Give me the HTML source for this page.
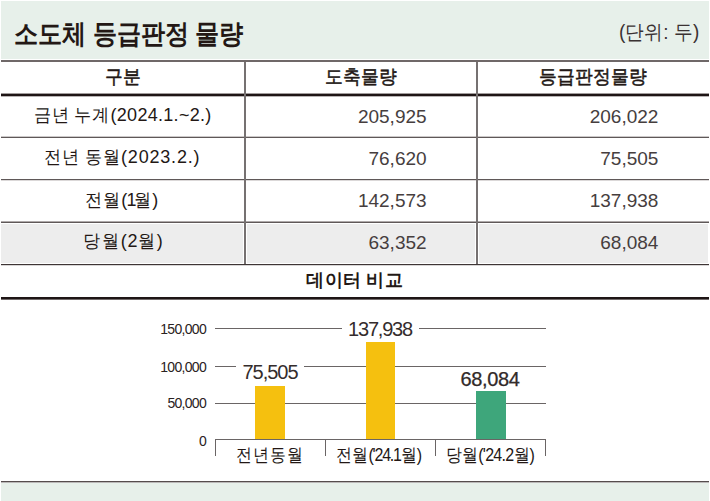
<!DOCTYPE html>
<html>
<head>
<meta charset="utf-8">
<style>
html,body{margin:0;padding:0;}
body{width:710px;height:501px;position:relative;overflow:hidden;background:#fff;
font-family:"Liberation Sans",sans-serif;color:#231815;}
.a{position:absolute;}
.t{position:absolute;white-space:nowrap;line-height:1;}
.hb{background:#e7f0ea;}
.g{background:#6f6868;}
.k{background:#1e1515;}
.rl{background:#5f5858;}
.vl{background:#767171;}
.gr{background:#ededed;}
.hd{font-size:18px;-webkit-text-stroke:0.5px #231815;transform:scaleY(1.07);transform-origin:50% 50%;}
.c{text-align:center;}
.r{text-align:right;}
.lb{font-size:17.5px;transform:scaleY(1.05);transform-origin:50% 50%;}
.dg{font-size:18px;}
.num{font-size:19px;color:#463e3e;}
.ax{font-size:14px;letter-spacing:-0.7px;color:#2a2222;}
.gl{background:#6a6565;height:1px;}
.bl{font-size:20px;color:#342c2c;}
.xl{font-size:16px;transform:scaleY(1.13);transform-origin:50% 50%;}
</style>
</head>
<body>
<!-- header band -->
<div class="a hb" style="left:1px;top:1px;width:708px;height:58px;"></div>
<div class="t" style="left:14px;top:22px;font-size:24px;font-weight:bold;transform:scaleY(1.12);transform-origin:50% 50%;">소도체 등급판정 물량</div>
<div class="t" style="left:619px;top:23px;font-size:19px;color:#3a3232;transform:scaleY(1.07);transform-origin:50% 50%;">(단위: 두)</div>
<div class="a g" style="left:1px;top:60px;width:708px;height:2px;"></div>

<!-- table header -->
<div class="t hd c" style="left:1px;width:243px;top:68px;">구분</div>
<div class="t hd c" style="left:246px;width:230px;top:68px;">도축물량</div>
<div class="t hd c" style="left:478px;width:230px;top:68px;">등급판정물량</div>
<div class="a k" style="left:1px;top:94px;width:708px;height:2px;box-shadow:0 -1px 0 rgba(20,8,8,0.4),0 1px 0 rgba(20,8,8,0.3);"></div>

<!-- rows -->
<div class="a gr" style="left:1px;top:224px;width:242px;height:39px;"></div>
<div class="a gr" style="left:247px;top:224px;width:228px;height:39px;"></div>
<div class="a gr" style="left:479px;top:224px;width:229px;height:39px;"></div>
<div class="a rl" style="left:1px;top:137px;width:708px;height:1px;box-shadow:0 -1px 0 rgba(110,100,100,0.35);"></div>
<div class="a rl" style="left:1px;top:179px;width:708px;height:1px;box-shadow:0 1px 0 rgba(110,100,100,0.25);"></div>
<div class="a rl" style="left:1px;top:222px;width:708px;height:1px;box-shadow:0 -1px 0 rgba(110,100,100,0.55);"></div>
<div class="a" style="left:1px;top:264px;width:708px;height:1px;background:#3e3535;box-shadow:0 1px 0 rgba(60,50,50,0.2);"></div>
<div class="a vl" style="left:244px;top:62px;width:2px;height:202px;"></div>
<div class="a vl" style="left:476px;top:62px;width:2px;height:202px;"></div>

<div class="t lb" style="left:33.6px;top:106px;">금년 누계<span class="dg" style="letter-spacing:0.3px">(2024.1.~2.)</span></div>
<div class="t lb" style="left:44.2px;top:148px;">전년 동월<span class="dg" style="letter-spacing:0.8px">(2023.2.)</span></div>
<div class="t lb" style="left:85.2px;top:190.6px;">전월<span class="dg"><span style="letter-spacing:-0.6px">(</span><span style="letter-spacing:-2.4px">1</span></span>월<span class="dg">)</span></div>
<div class="t lb" style="left:83.3px;top:232px;letter-spacing:0.7px;">당월<span class="dg">(2</span>월<span class="dg">)</span></div>

<div class="t num r" style="left:246px;width:180.6px;top:107px;">205,925</div>
<div class="t num r" style="left:246px;width:180.6px;top:149px;">76,620</div>
<div class="t num r" style="left:246px;width:180.6px;top:191px;">142,573</div>
<div class="t num r" style="left:246px;width:180.6px;top:233px;">63,352</div>
<div class="t num r" style="left:478px;width:180.4px;top:107px;">206,022</div>
<div class="t num r" style="left:478px;width:180.4px;top:149px;">75,505</div>
<div class="t num r" style="left:478px;width:180.4px;top:191px;">137,938</div>
<div class="t num r" style="left:478px;width:180.4px;top:233px;">68,084</div>

<div class="t c" style="left:0.7px;width:708px;top:272px;font-size:17.5px;font-weight:bold;letter-spacing:0.3px;">데이터 비교</div>
<div class="a k" style="left:1px;top:297px;width:708px;height:2px;box-shadow:0 1px 0 rgba(20,8,8,0.6);"></div>

<!-- chart -->
<div class="t ax r" style="left:120px;width:86px;top:322px;">150,000</div>
<div class="t ax r" style="left:120px;width:86px;top:359.5px;">100,000</div>
<div class="t ax r" style="left:120px;width:86px;top:396px;">50,000</div>
<div class="t ax r" style="left:120px;width:86px;top:434px;">0</div>

<div class="a gl" style="left:215px;top:328px;width:127px;"></div>
<div class="a gl" style="left:419px;top:328px;width:127px;"></div>
<div class="a gl" style="left:215px;top:366px;width:21px;"></div>
<div class="a gl" style="left:304px;top:366px;width:242px;"></div>
<div class="a gl" style="left:215px;top:403px;width:331px;"></div>
<div class="a gl" style="left:215px;top:439px;width:331px;"></div>
<div class="a gl" style="left:215px;top:439px;width:1px;height:17px;"></div>
<div class="a gl" style="left:325px;top:439px;width:1px;height:17px;"></div>
<div class="a gl" style="left:435px;top:439px;width:1px;height:17px;"></div>
<div class="a gl" style="left:545px;top:439px;width:1px;height:17px;"></div>

<div class="a" style="left:255px;top:386px;width:30px;height:53px;background:#f5c00f;"></div>
<div class="a" style="left:366px;top:342px;width:29px;height:97px;background:#f5c00f;"></div>
<div class="a" style="left:476px;top:391px;width:30px;height:48px;background:#3ea67b;"></div>

<div class="t bl c" style="left:220px;width:100px;top:362px;letter-spacing:-1px;">75,505</div>
<div class="t bl c" style="left:330px;width:100px;top:318.5px;letter-spacing:-1.2px;">137,938</div>
<div class="t bl c" style="left:440px;width:100px;top:369px;letter-spacing:-0.4px;-webkit-text-stroke:0.25px #231815;">68,084</div>

<div class="t xl c" style="left:215.6px;width:109px;top:447px;letter-spacing:0.8px;">전년동월</div>
<div class="t xl c" style="left:324.8px;width:109px;top:447px;">전월<span style="letter-spacing:-1.2px">('24.1</span>월)</div>
<div class="t xl c" style="left:436px;width:109px;top:447px;">당월<span style="letter-spacing:-0.7px">('24.2</span>월)</div>

<!-- bottom -->
<div class="a" style="left:1px;top:481px;width:708px;height:1px;background:#554d4d;box-shadow:0 1px 0 rgba(85,77,77,0.4);"></div>
<div class="a hb" style="left:1px;top:483px;width:708px;height:18px;"></div>
</body>
</html>
